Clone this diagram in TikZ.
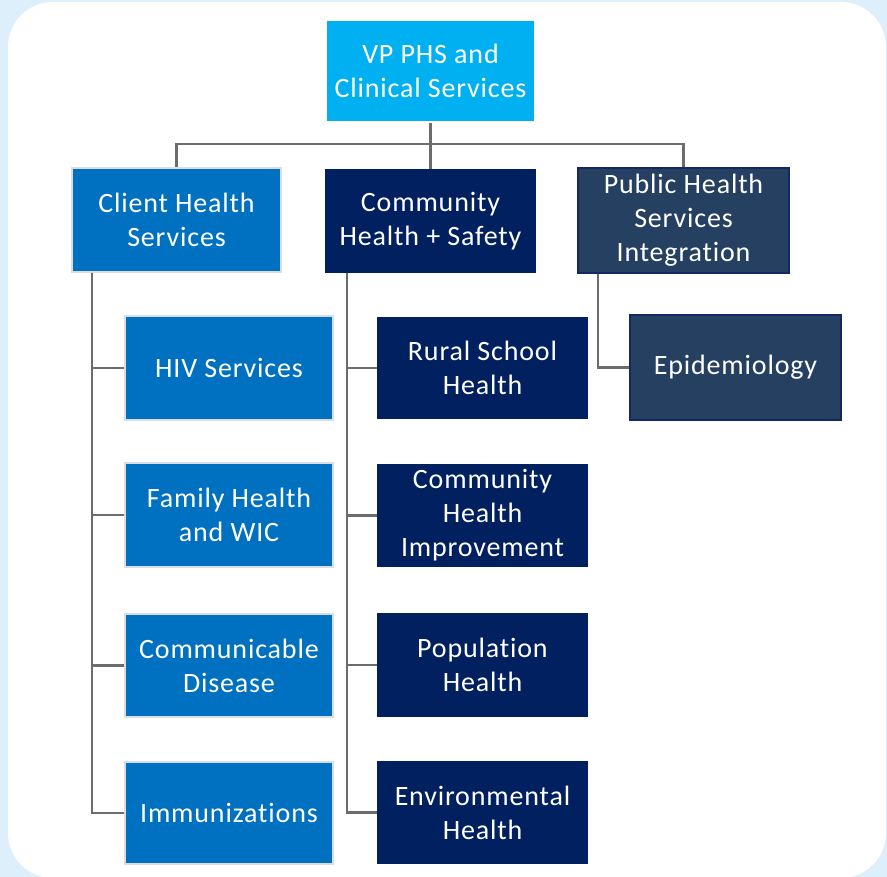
\documentclass[tikz,border=0pt]{standalone}
\usepackage{fontspec}
\setmainfont{Carlito}[LetterSpace=3, Ligatures=CommonOff]
\begin{document}
\begin{tikzpicture}[x=1pt,y=-1pt,
  box/.style={draw=#1, line width=1.5pt, text=white, align=center, inner sep=0pt,
    font=\fontsize{28}{34}\selectfont, minimum width=209pt, minimum height=103pt},
  conn/.style={draw=gray!85!black, line width=2.2pt}]
\useasboundingbox (0,0) rectangle (887,877);
\fill[fill={rgb,255:red,222;green,239;blue,252}] (0,0) rectangle (887,877);
\fill[white, rounded corners=45pt] (8,2) rectangle (886,878);
\definecolor{cyanfill}{RGB}{0,176,240}
\definecolor{bluefill}{RGB}{0,112,192}
\definecolor{navyfill}{RGB}{0,32,96}
\definecolor{slatefill}{RGB}{38,64,98}
\definecolor{lgray}{RGB}{217,222,228}
\definecolor{navyline}{RGB}{20,40,100}
% nodes
\node[box=white, fill=cyanfill, minimum height=102pt] (vp) at (430.5,71) {VP PHS and\\Clinical Services};
\node[box=lgray, fill=bluefill, minimum height=104pt] (chs) at (176.5,220) {Client Health\\Services};
\node[box=navyfill, fill=navyfill, minimum height=102pt] (cs) at (430.5,221) {Community\\Health + Safety};
\node[box=navyline, fill=slatefill, minimum width=211pt, minimum height=105pt] (phsi) at (683.5,220.5) {Public Health\\Services\\Integration};
\node[box=lgray, fill=bluefill, minimum width=208pt, minimum height=104pt] (hiv) at (229,368) {HIV Services};
\node[box=lgray, fill=bluefill, minimum width=208pt, minimum height=104pt] (fam) at (229,515) {Family Health\\and WIC};
\node[box=lgray, fill=bluefill, minimum width=208pt, minimum height=103pt] (cd) at (229,665.5) {Communicable\\Disease};
\node[box=lgray, fill=bluefill, minimum width=208pt, minimum height=102pt] (imm) at (229,813) {Immunizations};
\node[box=navyfill, fill=navyfill, minimum height=100pt] (rsh) at (482.5,368) {Rural School\\Health};
\node[box=navyfill, fill=navyfill, minimum height=101pt] (chi) at (482.5,515.5) {Community\\Health\\Improvement};
\node[box=navyfill, fill=navyfill, minimum height=102pt] (pop) at (482.5,665) {Population\\Health};
\node[box=navyfill, fill=navyfill, minimum height=101pt] (env) at (482.5,812.5) {Environmental\\Health};
\node[box=navyline, fill=slatefill, minimum width=211pt, minimum height=105pt] (epi) at (735.5,367.5) {Epidemiology};
% connectors
\draw[conn] (vp.south) -- (cs.north);
\draw[conn] (chs.north) -- ++(0,-23) -| (phsi.north);
\foreach \c in {hiv,fam,cd,imm} \draw[conn] ([xshift=21pt]chs.south west) |- (\c.west);
\foreach \c in {rsh,chi,pop,env} \draw[conn] ([xshift=22pt]cs.south west) |- (\c.west);
\draw[conn] ([xshift=21pt]phsi.south west) |- (epi.west);
\end{tikzpicture}
\end{document}
